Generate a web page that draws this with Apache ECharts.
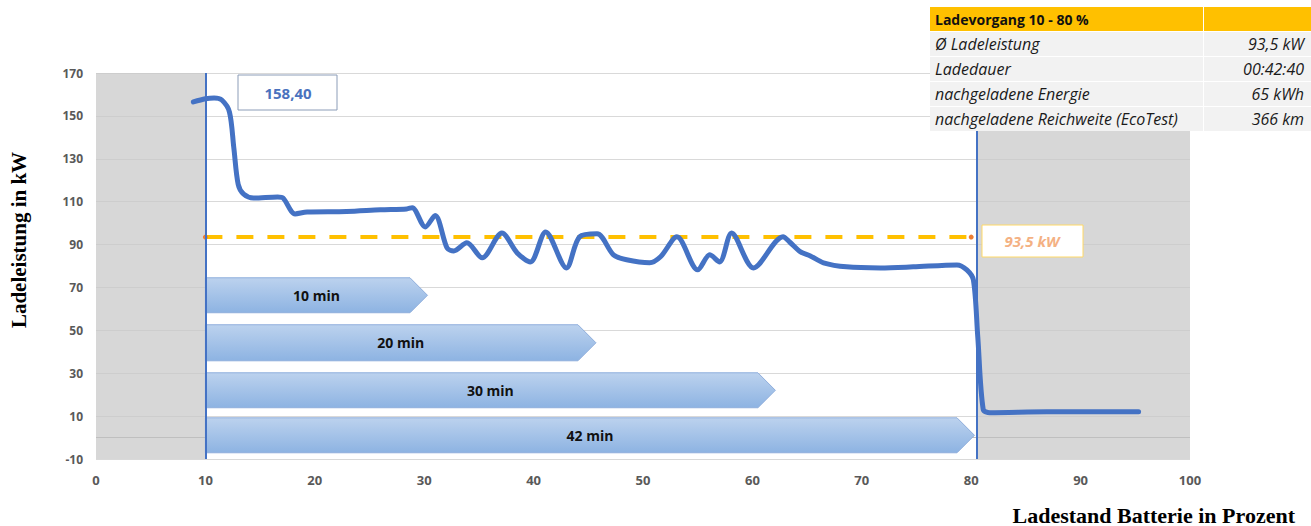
<!DOCTYPE html>
<html><head><meta charset="utf-8">
<script src="https://cdn.jsdelivr.net/npm/echarts/dist/echarts.min.js"></script>
<style>html,body{margin:0;padding:0;background:#fff}#c{width:1311px;height:526px}</style>
</head><body><div id="c"></div>
<script>
// ---- data ----
const socPercent = [8.9,10.0,10.8,11.5,12.2,12.6,13.0,13.5,14.4,16.6,17.1,18.2,19.3,22.9,26.0,28.4,28.9,30.1,31.0,32.1,32.7,33.9,35.3,37.1,38.5,39.7,41.1,43.0,44.2,45.8,47.3,48.5,50.6,51.6,53.1,55.0,56.1,57.0,58.1,60.1,62.8,63.4,64.4,65.3,66.5,68.6,71.7,74.7,78.7,79.6,80.2,80.6,81.1,81.7,86.9,95.3];
const powerKW    = [156.5,158.0,158.4,157.4,151.8,135.0,118.0,113.5,111.7,112.2,111.7,104.3,105.2,105.4,106.2,106.6,107.2,98.2,103.6,88.3,87.0,90.8,83.8,95.4,86.1,81.9,95.9,79.1,93.6,95.0,85.2,82.9,81.5,84.3,93.6,78.2,85.2,81.9,95.4,79.1,93.6,91.2,86.6,84.7,81.5,79.6,79.1,79.6,80.5,78.2,73.5,47.0,13.0,11.6,12.0,12.0];
const avgPower = 93.5;
const avgFrom = 10, avgTo = 80;
const windowFrom = 10, windowTo = 80.5;
const arrowLabels = ['10 min','20 min','30 min','42 min'];
const arrowStart  = [10,10,10,10];
const arrowEnd    = [30.3,45.7,62.1,80.3];
const arrowTop    = [74.5,52.6,30.2,9.2];
const arrowBottom = [58.2,35.8,13.9,-7.1];
const peakLabel = '158,40';
const avgLabel = '93,5 kW';
const yAxisTitle = 'Ladeleistung in kW';
const xAxisTitle = 'Ladestand Batterie in Prozent';
const tableTitle = 'Ladevorgang 10 - 80 %';
const tableRows = ['Ø Ladeleistung','Ladedauer','nachgeladene Energie','nachgeladene Reichweite (EcoTest)'];
const tableValues = ['93,5 kW','00:42:40','65 kWh','366 km'];

// ---- build ----
const lineData = socPercent.map((x,i)=>[x,powerKW[i]]);
const arrowData = arrowLabels.map((l,i)=>[arrowStart[i],arrowEnd[i],arrowTop[i],arrowBottom[i],l]);

const chart = echarts.init(document.getElementById('c'), null, {renderer:'svg'});

const tableGraphics = [];
const tL = 930, tMid = 1203, tR = 1311;
tableGraphics.push({type:'rect',shape:{x:tL,y:7,width:tR-tL,height:124},style:{fill:'#fff'},z:9});
tableGraphics.push({type:'rect',shape:{x:tL,y:7,width:tMid-tL,height:24},style:{fill:'#FFC000'},z:10});
tableGraphics.push({type:'rect',shape:{x:tMid+1,y:7,width:tR-tMid-1,height:24},style:{fill:'#FFC000'},z:10});
tableGraphics.push({type:'text',x:tL+5,y:19,style:{text:tableTitle,fontFamily:'Open Sans',fontWeight:'bold',fontSize:14,fill:'#111',align:'left',verticalAlign:'middle'},z:11});
const rowTops = [32,57,82,107];
tableRows.forEach((r,i)=>{
  const y0 = rowTops[i], h = 24;
  tableGraphics.push({type:'rect',shape:{x:tL,y:y0,width:tMid-tL,height:h},style:{fill:'#F2F2F2'},z:10});
  tableGraphics.push({type:'rect',shape:{x:tMid+1,y:y0,width:tR-tMid-1,height:h},style:{fill:'#F2F2F2'},z:10});
  tableGraphics.push({type:'text',x:tL+5,y:y0+h/2,style:{text:r,fontFamily:'Open Sans',fontStyle:'italic',fontSize:16,fill:'#1a1a1a',align:'left',verticalAlign:'middle'},z:11});
  tableGraphics.push({type:'text',x:1304,y:y0+h/2,style:{text:tableValues[i],fontFamily:'Open Sans',fontStyle:'italic',fontSize:16,fill:'#1a1a1a',align:'right',verticalAlign:'middle'},z:11});
});

const option = {
  animation:false,
  backgroundColor:'#fff',
  grid:{left:96,right:121,top:73,bottom:67},
  xAxis:{type:'value',min:0,max:100,interval:10,
    axisLine:{show:false},axisTick:{show:false},splitLine:{show:false},
    axisLabel:{margin:14,color:'#595959',fontSize:13,fontWeight:'bold',fontFamily:'Liberation Sans Narrow, Open Sans'}},
  yAxis:{type:'value',min:-10,max:170,interval:20,
    axisLine:{show:false},axisTick:{show:false},
    splitLine:{lineStyle:{color:'#D9D9D9',width:1}},
    axisLabel:{margin:13,color:'#595959',fontSize:12,fontWeight:'bold',fontFamily:'Open Sans'}},
  visualMap:{show:false,type:'piecewise',dimension:0,seriesIndex:3,
    pieces:[{lt:windowFrom,color:'#7893CC'},{gte:windowFrom,lte:windowTo,color:'#4472C4'},{gt:windowTo,color:'#7893CC'}]},
  series:[
    {type:'line',data:[],z:1,silent:true,
      markArea:{silent:true,z:1,itemStyle:{color:'rgba(200,200,200,0.72)'},
        data:[[{xAxis:0},{xAxis:windowFrom}],[{xAxis:windowTo},{xAxis:100}]]},
      markLine:{silent:true,z:1,symbol:'none',label:{show:false},
        data:[{yAxis:0,lineStyle:{color:'#BFBFBF',width:1,type:'solid'}}]}},
    {type:'line',data:[],z:5,silent:true,
      markLine:{silent:true,z:5,symbol:'none',label:{show:false},
        data:[{xAxis:windowFrom,lineStyle:{color:'#4472C4',width:2,type:'solid'}},
              {xAxis:windowTo,lineStyle:{color:'#4472C4',width:2,type:'solid'}}]}},
    {type:'custom',z:2,clip:false,silent:true,data:arrowData,
      renderItem:function(params,api){
        const p0 = api.coord([api.value(0),api.value(2)]);
        const p1 = api.coord([api.value(1),api.value(3)]);
        const x0=p0[0], yT=p0[1], xT=p1[0], yB=p1[1];
        const d=(yB-yT)/2, ym=(yT+yB)/2;
        return {type:'group',children:[
          {type:'polygon',shape:{points:[[x0,yT],[xT-d,yT],[xT,ym],[xT-d,yB],[x0,yB]]},
           style:{fill:new echarts.graphic.LinearGradient(0,0,0,1,[{offset:0,color:'#BCD2EE'},{offset:1,color:'#8DB3E2'}]),stroke:'#8FAEDC',lineWidth:1}},
          {type:'text',x:(x0+xT)/2,y:ym,style:{text:api.value(4),fontFamily:'Open Sans',fontWeight:'bold',fontSize:14,fill:'#111',align:'center',verticalAlign:'middle'}}
        ]};
      }},
    {type:'line',z:4,data:lineData,smooth:0.3,showSymbol:false,silent:true,
      lineStyle:{width:5,color:'#4472C4',cap:'round',join:'round'}},
    {type:'line',z:3,data:[[avgFrom,avgPower],[avgTo,avgPower]],symbol:'circle',symbolSize:5,silent:true,
      itemStyle:{color:'#ED7D31'},lineStyle:{color:'#FFC000',width:4,type:[17,14]}}
  ],
  graphic:[
    {type:'rect',shape:{x:238,y:75,width:99,height:35},style:{fill:'#fff',stroke:'#8C9DB8',lineWidth:1},z:10},
    {type:'text',x:288,y:93,style:{text:peakLabel,fontFamily:'Open Sans',fontWeight:'bold',fontSize:15,fill:'#4A72BE',align:'center',verticalAlign:'middle'},z:11},
    {type:'rect',shape:{x:982,y:225,width:101,height:32},style:{fill:'#fff',stroke:'#FFD966',lineWidth:1},z:10},
    {type:'text',x:1032,y:241,style:{text:avgLabel,fontFamily:'Open Sans',fontWeight:'bold',fontStyle:'italic',fontSize:15,fill:'#F4B183',align:'center',verticalAlign:'middle'},z:11},
    {type:'text',x:19,y:240,rotation:Math.PI/2,style:{text:yAxisTitle,fontFamily:'Liberation Serif',fontWeight:'bold',fontSize:21,fill:'#000',align:'center',verticalAlign:'middle'},z:11},
    {type:'text',x:1295,y:515,style:{text:xAxisTitle,fontFamily:'Liberation Serif',fontWeight:'bold',fontSize:22,fill:'#000',align:'right',verticalAlign:'middle'},z:11}
  ].concat(tableGraphics)
};
chart.setOption(option);
</script></body></html>
